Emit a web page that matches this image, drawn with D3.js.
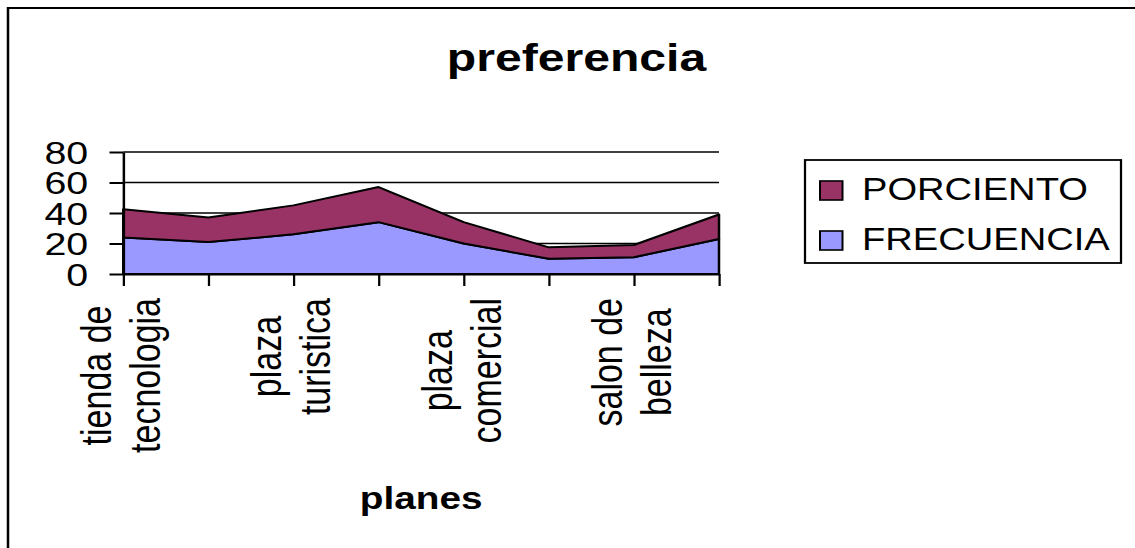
<!DOCTYPE html>
<html>
<head>
<meta charset="utf-8">
<script src="https://cdn.jsdelivr.net/npm/d3@7/dist/d3.min.js"></script>
<style>
  html, body { margin: 0; padding: 0; background: #fff; }
  svg { display: block; }
  text { font-family: Arial, "Liberation Sans", Helvetica, sans-serif; fill: #000; }
</style>
</head>
<body>
<svg id="chart" width="1135" height="548"></svg>
<script>
// ---- data ----
const categories = ["tienda de\ntecnologia", "", "plaza\nturistica", "", "plaza\ncomercial", "", "salon de\nbelleza", ""];
const frecuencia = [24, 21, 26, 34, 20, 10, 11, 23];
const porciento  = [18.5, 16, 19, 23, 14, 7.5, 8, 16];
const yTicks = [0, 20, 40, 60, 80];
const seriesNames = ["FRECUENCIA", "PORCIENTO"];
const seriesColors = {FRECUENCIA: "#9999FF", PORCIENTO: "#993366"};
const titleText = "preferencia";
const xTitle = "planes";

// ---- layout (drawn in a horizontally compressed space, then stretched x1.25) ----
const SX = 1.25;
const svg = d3.select("#chart");
svg.append("rect").attr("width", 1135).attr("height", 548).attr("fill", "#fff");
const root = svg.append("g").attr("transform", `scale(${SX},1)`);

// chart frame
root.append("rect")
  .attr("x", 6.4).attr("y", 8).attr("width", 1000).attr("height", 700)
  .attr("fill", "#fff").attr("stroke", "#000").attr("stroke-width", 2);

const x = d3.scaleLinear().domain([0, categories.length - 1]).range([98.6, 575.2]);
const y = d3.scaleLinear().domain([0, 80]).range([274, 152]);

// gridlines
root.append("g").selectAll("line").data(yTicks.filter(d => d > 0)).join("line")
  .attr("x1", x(0)).attr("x2", x(categories.length - 1))
  .attr("y1", d => y(d)).attr("y2", d => y(d))
  .attr("stroke", "#000").attr("stroke-width", 1.6);

// stacked areas
const table = categories.map((c, i) => ({i, FRECUENCIA: frecuencia[i], PORCIENTO: porciento[i]}));
const stack = d3.stack().keys(seriesNames);
const layers = stack(table);
const area = d3.area()
  .x((d, i) => x(i))
  .y0(d => y(d[0]))
  .y1(d => y(d[1]));
root.append("g").selectAll("path").data(layers).join("path")
  .attr("d", area)
  .attr("fill", d => seriesColors[d.key])
  .attr("stroke", "#000").attr("stroke-width", 2).attr("stroke-linejoin", "round");

// y axis
const yAxis = d3.axisLeft(y).tickValues(yTicks).tickSize(11).tickPadding(17).tickSizeOuter(0);
const gy = root.append("g").attr("transform", `translate(${x(0)},0)`).call(yAxis);
gy.select(".domain").attr("stroke", "#000").attr("stroke-width", 2);
gy.selectAll(".tick line").attr("stroke", "#000").attr("stroke-width", 2);
gy.selectAll(".tick text").attr("font-size", 31.5).attr("fill", "#000")
  .attr("font-family", "Arial, 'Liberation Sans', sans-serif").attr("dy", "0.36em");

// x axis
const xAxis = d3.axisBottom(x).tickValues(d3.range(categories.length)).tickSize(12).tickSizeOuter(0).tickFormat("");
const gx = root.append("g").attr("transform", `translate(0,${y(0)})`).call(xAxis);
gx.select(".domain").attr("stroke", "#000").attr("stroke-width", 2);
gx.selectAll(".tick line").attr("stroke", "#000").attr("stroke-width", 1.8);

// rotated category labels
const labFs = 34, lh = labFs * 1.153, blockTop = 298;
categories.forEach((c, i) => {
  if (!c) return;
  const lines = c.split("\n");
  const t = root.append("text")
    .attr("font-size", labFs)
    .attr("text-anchor", "middle");
  const spans = lines.map((ln, k) => t.append("tspan")
    .attr("x", 0)
    .attr("y", (k - (lines.length - 1) / 2) * lh + 0.29 * labFs)
    .text(ln));
  const maxLen = d3.max(spans, s => s.node().getComputedTextLength());
  t.attr("transform", `translate(${x(i)},${blockTop + maxLen / 2}) rotate(-90)`);
});

// title
root.append("text").attr("x", 461.2).attr("y", 71)
  .attr("text-anchor", "middle").attr("font-size", 38.5).attr("font-weight", "bold")
  .text(titleText);

// x axis title
root.append("text").attr("x", (x(0) + x(categories.length - 1)) / 2).attr("y", 509)
  .attr("text-anchor", "middle").attr("font-size", 31).attr("font-weight", "bold")
  .text(xTitle);

// legend
const lg = root.append("g");
lg.append("rect").attr("x", 644).attr("y", 160).attr("width", 252.8).attr("height", 103)
  .attr("fill", "#fff").attr("stroke", "#000").attr("stroke-width", 1.8);
const legendOrder = seriesNames.slice().reverse();
legendOrder.forEach((name, k) => {
  const yy = 200 + k * 50;
  lg.append("rect").attr("x", 656).attr("y", yy - 19).attr("width", 18).attr("height", 19)
    .attr("fill", seriesColors[name]).attr("stroke", "#000").attr("stroke-width", 1.6);
  lg.append("text").attr("x", 689.6).attr("y", yy).attr("font-size", 30.5).text(name);
});
</script>
</body>
</html>
